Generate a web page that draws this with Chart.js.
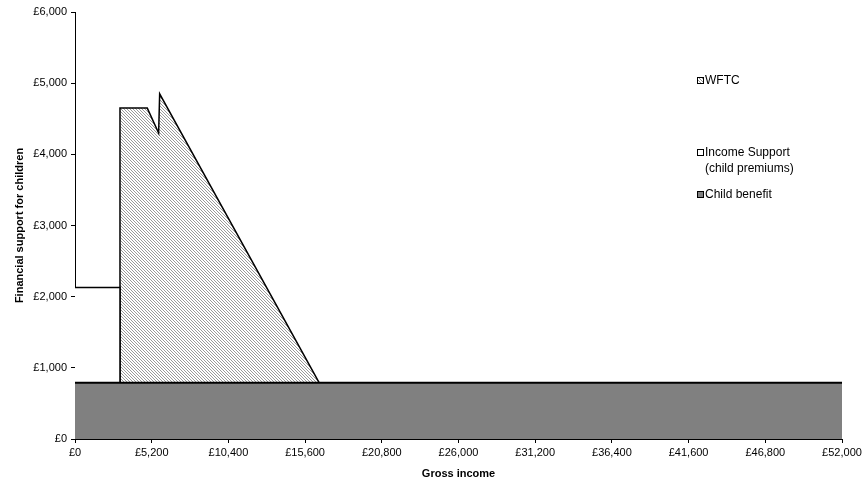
<!DOCTYPE html>
<html>
<head>
<meta charset="utf-8">
<script src="https://cdn.jsdelivr.net/npm/chart.js@4.4.0/dist/chart.umd.min.js"></script>
<style>
  html, body { margin: 0; padding: 0; background: #fff; }
  #wrap { width: 867px; height: 488px; }
</style>
</head>
<body>
<div id="wrap"><canvas id="supportChart" width="867" height="488"></canvas></div>
<script>
// values (gross income in £, support in £ per year)
const cbIncome = [0, 52000];
const cbValue = [790, 790];

const isIncome = [0, 3050, 3050];
const isValue = [2130, 2130, 790];

const wftcIncome = [3050, 3050, 4900, 5670, 5740, 16560];
const wftcValue = [790, 4650, 4650, 4300, 4850, 790];

const legendLabels = ['WFTC', ['Income Support', '(child premiums)'], 'Child benefit'];

const FONT = "'Liberation Sans', Arial, sans-serif";

function toPoints(xs, ys) {
    return xs.map((x, i) => ({ x: x, y: ys[i] }));
}

// diagonal hatch like the old excel pattern
function makeHatch() {
    const c = document.createElement('canvas');
    c.width = 3;
    c.height = 3;
    const g = c.getContext('2d');
    g.fillStyle = '#ffffff';
    g.fillRect(0, 0, 3, 3);
    g.fillStyle = '#9a9a9a';
    for (let i = 0; i < 3; i++) {
        g.fillRect(i, i, 1, 1);
    }
    return g.createPattern(c, 'repeat');
}

const ctx = document.getElementById('supportChart').getContext('2d');
const hatch = makeHatch();

const legendPlugin = {
    id: 'insideLegend',
    afterDraw(chart) {
        const g = chart.ctx;
        const items = [
            { text: legendLabels[0], fill: hatch, y: 81 },
            { text: legendLabels[1], fill: '#ffffff', y: 153 },
            { text: legendLabels[2], fill: '#808080', y: 195 }
        ];
        g.save();
        g.font = '12px ' + FONT;
        g.textBaseline = 'middle';
        items.forEach(item => {
            g.fillStyle = item.fill;
            g.fillRect(697, item.y - 4, 7, 7);
            g.strokeStyle = '#000';
            g.lineWidth = 1;
            g.strokeRect(697.5, item.y - 3.5, 6, 6);
            g.fillStyle = '#000';
            const lines = Array.isArray(item.text) ? item.text : [item.text];
            lines.forEach((line, i) => {
                g.fillText(line, 705, item.y + i * 16);
            });
        });
        g.restore();
    }
};

const chart = new Chart(ctx, {
    type: 'line',
    data: {
        datasets: [
            {
                label: 'Child benefit',
                data: toPoints(cbIncome, cbValue),
                borderColor: '#000',
                borderWidth: 2,
                backgroundColor: '#808080',
                fill: 'origin'
            },
            {
                label: 'Income Support (child premiums)',
                data: toPoints(isIncome, isValue),
                borderColor: '#000',
                borderWidth: 1.5,
                backgroundColor: '#ffffff',
                fill: { value: cbValue[0] }
            },
            {
                label: 'WFTC',
                data: toPoints(wftcIncome, wftcValue),
                borderColor: '#000',
                borderWidth: 1.5,
                backgroundColor: hatch,
                fill: { value: cbValue[0] }
            }
        ]
    },
    options: {
        responsive: false,
        animation: false,
        elements: {
            point: { radius: 0 },
            line: { tension: 0 }
        },
        layout: {
            padding: { top: 12, right: 25, left: 0, bottom: 0 }
        },
        plugins: {
            legend: { display: false },
            tooltip: { enabled: false }
        },
        scales: {
            x: {
                type: 'linear',
                min: 0,
                max: 52000,
                afterFit: scale => { scale.height = 49; },
                ticks: {
                    stepSize: 5200,
                    autoSkip: false,
                    maxRotation: 0,
                    color: '#000',
                    padding: 3,
                    font: { family: FONT, size: 11 },
                    callback: v => '£' + v.toLocaleString('en-GB')
                },
                grid: {
                    drawOnChartArea: false,
                    color: '#000',
                    tickLength: 4
                },
                border: { color: '#000', width: 1 },
                title: {
                    display: true,
                    text: 'Gross income',
                    color: '#000',
                    font: { family: FONT, size: 11, weight: 'bold' },
                    padding: { top: 2, bottom: 7 }
                }
            },
            y: {
                min: 0,
                max: 6000,
                afterFit: scale => { scale.width = 75; },
                ticks: {
                    stepSize: 1000,
                    color: '#000',
                    padding: 4,
                    font: { family: FONT, size: 11 },
                    callback: v => '£' + v.toLocaleString('en-GB')
                },
                grid: {
                    drawOnChartArea: false,
                    color: '#000',
                    tickLength: 4
                },
                border: { color: '#000', width: 1 },
                title: {
                    display: true,
                    text: 'Financial support for children',
                    color: '#000',
                    font: { family: FONT, size: 11, weight: 'bold' },
                    padding: { top: 13, bottom: 4 }
                }
            }
        }
    },
    plugins: [legendPlugin]
});
</script>
</body>
</html>
